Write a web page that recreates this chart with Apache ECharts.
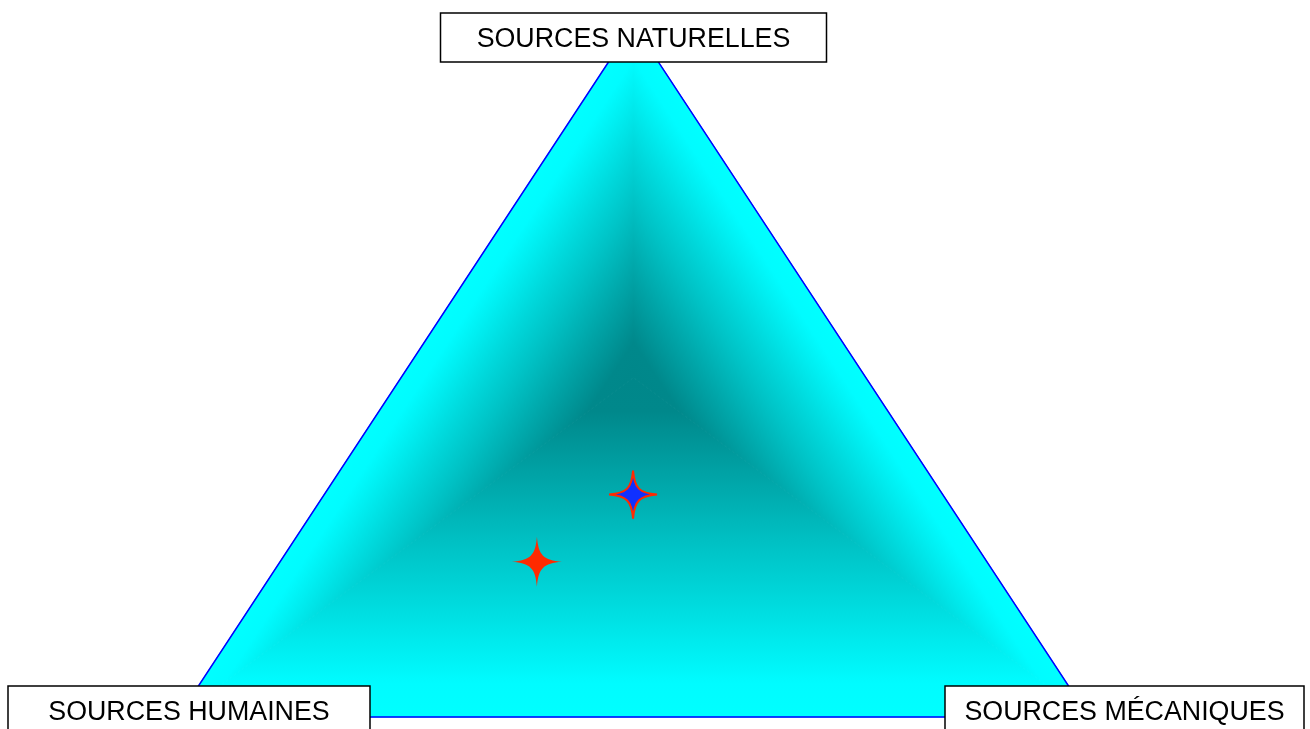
<!DOCTYPE html>
<html>
<head>
<meta charset="utf-8">
<title>Sources</title>
<script src="https://cdn.jsdelivr.net/npm/echarts@6/dist/echarts.min.js"></script>
<style>
html, body {
  margin: 0;
  padding: 0;
  background: #fff;
}
#main {
  width: 1310px;
  height: 729px;
}
</style>
</head>
<body>
<div id="main"></div>
<script>
// corners of the triangle, as compositions [naturelles, humaines, mecaniques]
const vertexNames = ['SOURCES NATURELLES', 'SOURCES HUMAINES', 'SOURCES MÉCANIQUES'];
const vertexComp = [[1, 0, 0], [0, 1, 0], [0, 0, 1]];
// point where the shading is darkest
const shadeCenter = [0.49, 0.255, 0.255];

// the two plotted profiles
const starNames = ['Profil A', 'Profil B'];
const starNaturelles = [0.224, 0.321];
const starHumaines = [0.494, 0.340];
const starMecaniques = [0.282, 0.339];

// ternary -> x/y in a unit triangle (humaines left, mecaniques right, naturelles top)
function toXY(n, h, m) {
  const s = n + h + m;
  return [(m + n / 2) / s, n / s];
}

const starPath = 'path://M25,0 C26.5,18.5 31.5,23.5 50,25 C31.5,26.5 26.5,31.5 25,50 C23.5,31.5 18.5,26.5 0,25 C18.5,23.5 23.5,18.5 25,0 Z';

// shading ramp, center (0) -> edge (1), green/blue level
const shadeRamp = [[0, 135], [0.1, 136], [0.3, 165], [0.5, 195], [0.65, 216], [0.8, 238], [0.9, 252], [1, 255]];

// box size and offset of each corner label, in pixels
const labelLayout = [
  { dx: 0, dy: 13.5, w: 386 },
  { dx: 11, dy: -6.5, w: 362 },
  { dx: 35.5, dy: -6.5, w: 359 }
];

function shadeGradient(c, a, b) {
  // gradient runs from the center straight onto edge a-b
  const ex = b[0] - a[0], ey = b[1] - a[1];
  const t = ((c[0] - a[0]) * ex + (c[1] - a[1]) * ey) / (ex * ex + ey * ey);
  const fx = a[0] + t * ex, fy = a[1] + t * ey;
  return {
    type: 'linear',
    x: c[0], y: c[1], x2: fx, y2: fy,
    global: true,
    colorStops: shadeRamp.map(r => ({
      offset: r[0],
      color: 'rgb(0,' + r[1] + ',' + Math.min(255, r[1] + 3) + ')'
    }))
  };
}

function renderShade(params, api) {
  const pts = vertexComp.map(v => api.coord(toXY(v[0], v[1], v[2])));
  const c = api.coord(toXY(shadeCenter[0], shadeCenter[1], shadeCenter[2]));
  const children = [];
  for (let i = 0; i < 3; i++) {
    const a = pts[i], b = pts[(i + 1) % 3];
    children.push({
      type: 'polygon',
      shape: { points: [c, a, b] },
      style: { fill: shadeGradient(c, a, b), stroke: shadeGradient(c, a, b), lineWidth: 1 }
    });
  }
  children.push({
    type: 'polygon',
    shape: { points: pts },
    style: { fill: 'none', stroke: '#0000ff', lineWidth: 1.5 }
  });
  return { type: 'group', children: children };
}

function renderLabel(params, api) {
  const i = params.dataIndex;
  const lay = labelLayout[i];
  const p = api.coord([api.value(0), api.value(1)]);
  const cx = p[0] + lay.dx, cy = p[1] + lay.dy;
  return {
    type: 'group',
    children: [
      {
        type: 'rect',
        shape: { x: cx - lay.w / 2, y: cy - 24.5, width: lay.w, height: 49 },
        style: { fill: '#fff', stroke: '#000', lineWidth: 1.5 }
      },
      {
        type: 'text',
        style: {
          text: vertexNames[i],
          x: cx, y: cy + 2,
          align: 'center', verticalAlign: 'middle',
          fontSize: 26.8,
          fontFamily: 'Liberation Sans, Arial, sans-serif',
          fill: '#000'
        }
      }
    ]
  };
}

const starData = starNames.map((name, i) =>
  toXY(starNaturelles[i], starHumaines[i], starMecaniques[i]).concat([name]));

const chart = echarts.init(document.getElementById('main'));
chart.setOption({
  animation: false,
  grid: { left: 178, right: 221, top: 24, bottom: 12 },
  xAxis: { type: 'value', min: 0, max: 1, show: false },
  yAxis: { type: 'value', min: 0, max: 1, show: false },
  series: [
    {
      type: 'custom',
      renderItem: renderShade,
      data: [[0.5, 0.5]],
      silent: true,
      z: 1
    },
    {
      name: starNames[0],
      type: 'scatter',
      data: [starData[0]],
      symbol: starPath,
      symbolSize: 50,
      itemStyle: { color: '#ff2a00', opacity: 1 },
      z: 3
    },
    {
      name: starNames[1],
      type: 'scatter',
      data: [starData[1]],
      symbol: starPath,
      symbolSize: 48,
      itemStyle: { color: '#1030ff', borderColor: '#ff2a00', borderWidth: 2, opacity: 1 },
      z: 3
    },
    {
      type: 'custom',
      renderItem: renderLabel,
      data: vertexComp.map(v => toXY(v[0], v[1], v[2])),
      silent: true,
      z: 5
    }
  ]
});
</script>
</body>
</html>
